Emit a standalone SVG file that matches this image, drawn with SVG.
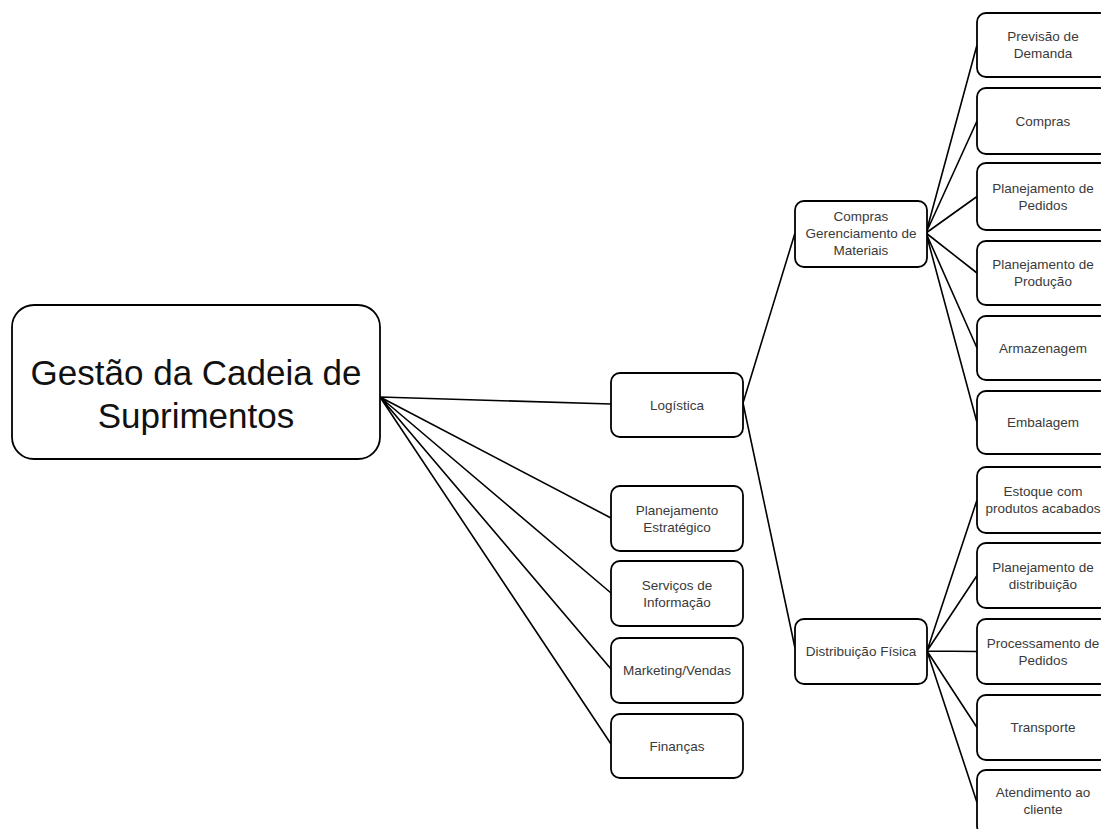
<svg xmlns="http://www.w3.org/2000/svg" width="1101" height="829" viewBox="0 0 1101 829">
<style>
.box{fill:#fff;stroke:#000;stroke-width:1.8}
.t{font-family:"Liberation Sans",Arial,sans-serif;font-size:13.5px;fill:#3a3a3a;text-anchor:middle}
.big{font-family:"Liberation Sans",Arial,sans-serif;font-size:35px;fill:#111;text-anchor:middle}
.c{stroke:#000;stroke-width:1.6;fill:none}
</style>
<rect width="1101" height="829" fill="#fff"/>
<g id="connectors">
<path class="c" d="M380 397L611 404M380 397L611 518M380 397L611 593M380 397L611 669M380 397L611 744"/>
<path class="c" d="M743 403L795 233M743 403L795 648"/>
<path class="c" d="M926 233L977 45M926 233L977 121M926 233L977 196.5M926 233L977 273M926 233L977 348M926 233L977 422.5"/>
<path class="c" d="M927 651L977 500M927 651L977 575.5M927 651L977 651.5M927 651L977 727.5M927 651L977 802.5"/>
</g>
<g id="root"><rect class="box" x="12" y="305" width="368" height="154" rx="22"/>
<text class="big" x="196" y="385">Gestão da Cadeia de</text><text class="big" x="196" y="428">Suprimentos</text></g>
<g id="logistica"><rect class="box" x="611" y="373" width="132" height="64" rx="9"/><text class="t" x="677" y="410">Logística</text></g>
<g id="planejamento"><rect class="box" x="611" y="486" width="132" height="65" rx="9"/><text class="t" x="677" y="515">Planejamento</text><text class="t" x="677" y="532">Estratégico</text></g>
<g id="servicos"><rect class="box" x="611" y="561" width="132" height="65" rx="9"/><text class="t" x="677" y="590">Serviços de</text><text class="t" x="677" y="607">Informação</text></g>
<g id="marketing"><rect class="box" x="611" y="638" width="132" height="65" rx="9"/><text class="t" x="677" y="675">Marketing/Vendas</text></g>
<g id="financas"><rect class="box" x="611" y="714" width="132" height="64" rx="9"/><text class="t" x="677" y="751">Finanças</text></g>
<g id="compras-gm"><rect class="box" x="795" y="201" width="132" height="66" rx="9"/><text class="t" x="861" y="221">Compras</text><text class="t" x="861" y="238">Gerenciamento de</text><text class="t" x="861" y="255">Materiais</text></g>
<g id="distribuicao"><rect class="box" x="795" y="619" width="132" height="65" rx="9"/><text class="t" x="861" y="656">Distribuição Física</text></g>
<g id="previsao"><rect class="box" x="977" y="13" width="132" height="64" rx="9"/><text class="t" x="1043" y="41">Previsão de</text><text class="t" x="1043" y="58">Demanda</text></g>
<g id="compras"><rect class="box" x="977" y="88" width="132" height="66" rx="9"/><text class="t" x="1043" y="126">Compras</text></g>
<g id="pedidos"><rect class="box" x="977" y="163" width="132" height="67" rx="9"/><text class="t" x="1043" y="193">Planejamento de</text><text class="t" x="1043" y="210">Pedidos</text></g>
<g id="producao"><rect class="box" x="977" y="241" width="132" height="64" rx="9"/><text class="t" x="1043" y="269">Planejamento de</text><text class="t" x="1043" y="286">Produção</text></g>
<g id="armazenagem"><rect class="box" x="977" y="316" width="132" height="64" rx="9"/><text class="t" x="1043" y="353">Armazenagem</text></g>
<g id="embalagem"><rect class="box" x="977" y="391" width="132" height="63" rx="9"/><text class="t" x="1043" y="427">Embalagem</text></g>
<g id="estoque"><rect class="box" x="977" y="467" width="132" height="66" rx="9"/><text class="t" x="1043" y="496">Estoque com</text><text class="t" x="1043" y="513">produtos acabados</text></g>
<g id="plan-dist"><rect class="box" x="977" y="543" width="132" height="65" rx="9"/><text class="t" x="1043" y="572">Planejamento de</text><text class="t" x="1043" y="589">distribuição</text></g>
<g id="processamento"><rect class="box" x="977" y="619" width="132" height="65" rx="9"/><text class="t" x="1043" y="648">Processamento de</text><text class="t" x="1043" y="665">Pedidos</text></g>
<g id="transporte"><rect class="box" x="977" y="695" width="132" height="65" rx="9"/><text class="t" x="1043" y="732">Transporte</text></g>
<g id="atendimento"><rect class="box" x="977" y="770" width="132" height="65" rx="9"/><text class="t" x="1043" y="797">Atendimento ao</text><text class="t" x="1043" y="814">cliente</text></g>
</svg>
